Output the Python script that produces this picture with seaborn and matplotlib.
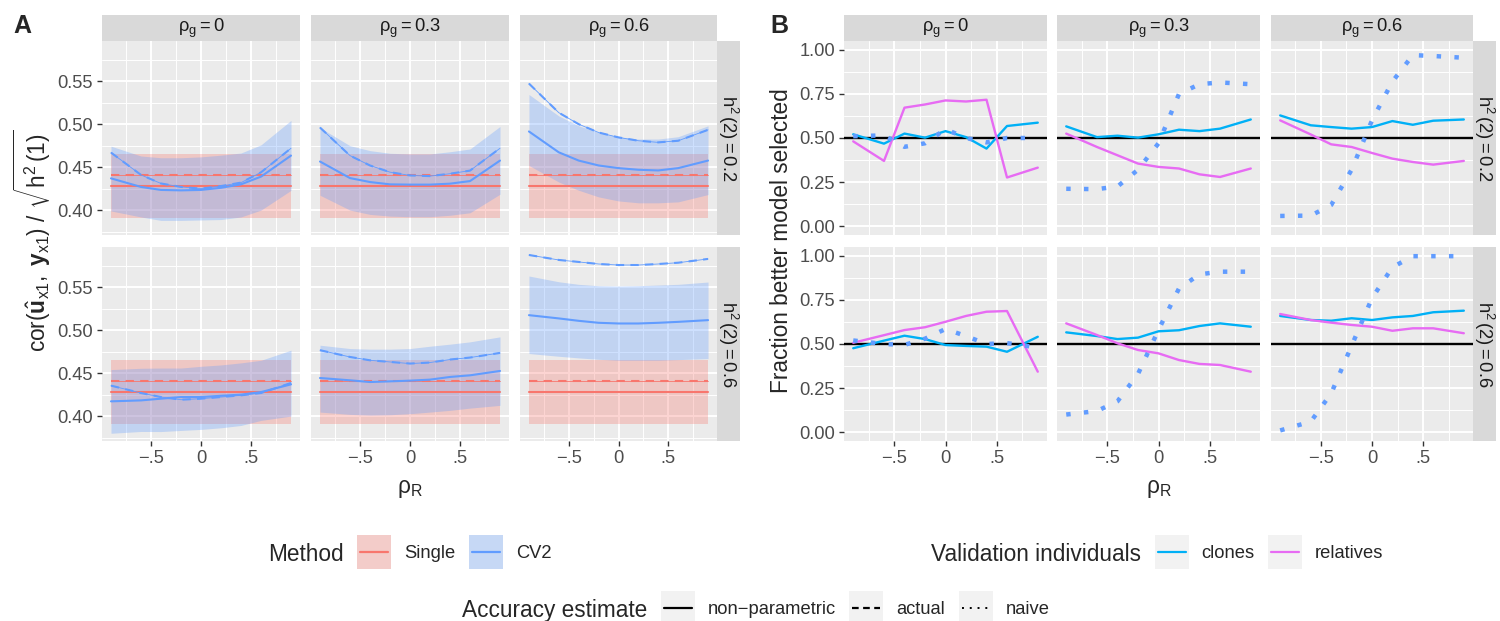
import matplotlib
matplotlib.use("Agg")
import matplotlib.pyplot as plt
from matplotlib.patches import Rectangle
from matplotlib.lines import Line2D
import seaborn as sns

# ---------------------------------------------------------------- data
rho_R = [-0.9, -0.6, -0.4, -0.2, 0.0, 0.2, 0.4, 0.6, 0.9]
rho_g_labels = ["0", "0.3", "0.6"]
h2_labels = ["0.2", "0.6"]

# Panel A: single-trait model (flat across rho_R)
single_nonpar = 0.428
single_actual = 0.441
single_lo = 0.391
single_hi = 0.465

# Panel A: CV2 model, rows = h2(2) 0.2 / 0.6, each row = rho_g 0, 0.3, 0.6
cv2_nonpar = [
    [[0.437, 0.427, 0.4235, 0.423, 0.4235, 0.426, 0.430, 0.439, 0.4635],
     [0.4566, 0.4373, 0.4327, 0.430, 0.4297, 0.4297, 0.4308, 0.4338, 0.4577],
     [0.4916, 0.4673, 0.4577, 0.452, 0.4489, 0.447, 0.4462, 0.4489, 0.4577]],
    [[0.4172, 0.4183, 0.4203, 0.4222, 0.4222, 0.4237, 0.425, 0.428, 0.437],
     [0.4444, 0.4417, 0.4397, 0.4405, 0.4413, 0.4425, 0.4456, 0.4475, 0.4526],
     [0.5176, 0.5138, 0.511, 0.5087, 0.5079, 0.5079, 0.5087, 0.5098, 0.5118]],
]
cv2_actual = [
    [[0.467, 0.441, 0.431, 0.427, 0.425, 0.428, 0.432, 0.444, 0.472],
     [0.4962, 0.4635, 0.452, 0.4442, 0.4404, 0.4396, 0.4424, 0.446, 0.472],
     [0.5474, 0.5135, 0.5001, 0.4904, 0.4847, 0.4808, 0.4789, 0.4808, 0.4935]],
    [[0.4355, 0.4269, 0.4222, 0.4191, 0.4203, 0.4222, 0.4242, 0.4269, 0.4386],
     [0.4768, 0.4689, 0.465, 0.4631, 0.4612, 0.4624, 0.4659, 0.4682, 0.4736],
     [0.5877, 0.5819, 0.5796, 0.5772, 0.576, 0.576, 0.5772, 0.5787, 0.5831]],
]
cv2_hi = [
    [[0.4745, 0.463, 0.461, 0.461, 0.462, 0.464, 0.4665, 0.476, 0.5045],
     [0.496, 0.475, 0.4693, 0.4662, 0.4654, 0.4654, 0.468, 0.4712, 0.4974],
     [0.5347, 0.5097, 0.4982, 0.4904, 0.4855, 0.4828, 0.4828, 0.4855, 0.4982]],
    [[0.4542, 0.4557, 0.456, 0.456, 0.458, 0.4596, 0.462, 0.465, 0.4768],
     [0.4826, 0.4787, 0.478, 0.478, 0.4787, 0.4814, 0.4838, 0.4865, 0.4923],
     [0.5632, 0.5565, 0.5535, 0.5519, 0.5515, 0.5519, 0.5527, 0.5535, 0.5562]],
]
cv2_lo = [
    [[0.399, 0.392, 0.388, 0.388, 0.3885, 0.389, 0.392, 0.400, 0.423],
     [0.4173, 0.400, 0.395, 0.393, 0.3923, 0.3923, 0.394, 0.3969, 0.4185],
     [0.452, 0.4327, 0.4231, 0.4154, 0.4107, 0.4085, 0.4085, 0.4096, 0.4181]],
    [[0.380, 0.3821, 0.382, 0.3833, 0.3845, 0.3864, 0.3891, 0.395, 0.400],
     [0.4047, 0.402, 0.4012, 0.4016, 0.4028, 0.4047, 0.4067, 0.4093, 0.4125],
     [0.4729, 0.4697, 0.4678, 0.4662, 0.465, 0.465, 0.465, 0.4658, 0.467]],
]

# Panel B: fraction of replicates where the better model was selected
frac_clones = [
    [[0.521, 0.468, 0.525, 0.502, 0.539, 0.505, 0.44, 0.568, 0.587],
     [0.566, 0.505, 0.513, 0.502, 0.521, 0.547, 0.539, 0.553, 0.605],
     [0.628, 0.572, 0.562, 0.553, 0.562, 0.596, 0.575, 0.598, 0.605]],
    [[0.476, 0.519, 0.547, 0.528, 0.494, 0.489, 0.485, 0.456, 0.541],
     [0.566, 0.545, 0.528, 0.536, 0.572, 0.578, 0.602, 0.617, 0.598],
     [0.659, 0.636, 0.632, 0.646, 0.636, 0.651, 0.659, 0.68, 0.689]],
]
frac_relatives = [
    [[0.481, 0.37, 0.672, 0.69, 0.713, 0.707, 0.717, 0.276, 0.332],
     [0.525, 0.449, 0.402, 0.355, 0.336, 0.327, 0.294, 0.279, 0.327],
     [0.60, 0.52, 0.464, 0.449, 0.415, 0.383, 0.364, 0.349, 0.37]],
    [[0.507, 0.55, 0.579, 0.595, 0.626, 0.659, 0.683, 0.687, 0.343],
     [0.617, 0.551, 0.504, 0.466, 0.447, 0.409, 0.387, 0.381, 0.343],
     [0.67, 0.636, 0.621, 0.608, 0.598, 0.575, 0.589, 0.589, 0.561]],
]
frac_naive = [
    [[0.51, 0.515, 0.45, 0.47, 0.55, 0.50, 0.475, 0.50, 0.50],
     [0.212, 0.21, 0.225, 0.32, 0.47, 0.75, 0.805, 0.815, 0.805],
     [0.058, 0.06, 0.12, 0.32, 0.60, 0.82, 0.97, 0.965, 0.955]],
    [[0.52, 0.50, 0.495, 0.53, 0.585, 0.545, 0.50, 0.505, 0.48],
     [0.10, 0.12, 0.175, 0.33, 0.58, 0.815, 0.895, 0.91, 0.91],
     [0.01, 0.06, 0.22, 0.49, 0.76, 0.935, 0.998, 0.998, 0.998]],
]
reference_level = 0.5

x_ticks = [-0.5, 0.0, 0.5]
x_tick_labels = ["\u2212.5", "0", ".5"]
a_y_ticks = [0.40, 0.45, 0.50, 0.55]
b_y_ticks = [0.0, 0.25, 0.5, 0.75, 1.0]

# ---------------------------------------------------------------- style
sns.set_theme(style="darkgrid")
plt.rcParams["font.family"] = ["Liberation Sans", "DejaVu Sans"]
plt.rcParams.update({
    "mathtext.fontset": "custom",
    "mathtext.rm": "Liberation Sans",
    "mathtext.it": "Liberation Sans:italic",
    "mathtext.bf": "Liberation Sans:bold",
    "mathtext.default": "regular",
    "axes.unicode_minus": True,
})

SINGLE = "#F8766D"
CV2 = "#619CFF"
CLONES = "#00B0F6"
RELATIVES = "#E76BF3"
PANEL_BG = "#EBEBEB"
STRIP_BG = "#D9D9D9"
TICK_TXT = "#4D4D4D"
AX_FS = 16.3
TICK_FS = 13.2
LEG_FS = 13.2

W, H = 1500, 621
fig = plt.figure(figsize=(W / 100, H / 100), dpi=100)
fig.patch.set_facecolor("white")


def box(x0, y0, x1, y1):
    return [x0 / W, 1 - y1 / H, (x1 - x0) / W, (y1 - y0) / H]


def fx(x):
    return x / W


def fy(y):
    return 1 - y / H


ROWS = [(41, 235), (247, 441)]
TOP_STRIP = (15, 41)
A_COLS = [(102, 300), (311, 509), (520, 717)]
A_RSTRIP = (717, 740)
B_COLS = [(844, 1047), (1057, 1260), (1271, 1473)]
B_RSTRIP = (1473, 1496)


def style_panel(ax, r, c, yticks, yminor, ylabels):
    ax.set_facecolor(PANEL_BG)
    for s in ax.spines.values():
        s.set_visible(False)
    ax.set_xlim(-0.99, 0.99)
    ax.set_xticks(x_ticks)
    ax.set_xticks([-0.75, -0.25, 0.25, 0.75], minor=True)
    ax.set_yticks(yticks)
    ax.set_yticks(yminor, minor=True)
    ax.grid(True, which="major", color="white", linewidth=1.4)
    ax.grid(True, which="minor", color="white", linewidth=0.7)
    ax.set_axisbelow(True)
    ax.tick_params(which="minor", length=0)
    ax.tick_params(which="major", color="#333333", length=3.6, width=1.0,
                   pad=3.0, labelsize=TICK_FS, labelcolor=TICK_TXT)
    ax.set_xlabel("")
    ax.set_ylabel("")
    if c == 0:
        ax.set_yticklabels(ylabels)
        ax.tick_params(axis="y", left=True, labelleft=True)
    else:
        ax.tick_params(axis="y", left=False, labelleft=False)
    if r == 1:
        ax.set_xticklabels(x_tick_labels)
        ax.tick_params(axis="x", bottom=True, labelbottom=True)
    else:
        ax.tick_params(axis="x", bottom=False, labelbottom=False)


def strip(x0, y0, x1, y1, text, rotation=0):
    sax = fig.add_axes(box(x0, y0, x1, y1))
    sax.set_facecolor(STRIP_BG)
    for s in sax.spines.values():
        s.set_visible(False)
    sax.set_xticks([])
    sax.set_yticks([])
    sax.grid(False)
    sax.text(0.5, 0.5, text, transform=sax.transAxes, ha="center",
             va="center", rotation=rotation, fontsize=TICK_FS,
             color="#1A1A1A")


# ---------------------------------------------------------------- panel A
for r in range(2):
    for c in range(3):
        x0, x1 = A_COLS[c]
        y0, y1 = ROWS[r]
        ax = fig.add_axes(box(x0, y0, x1, y1))
        n = len(rho_R)
        ax.fill_between(rho_R, [single_lo] * n, [single_hi] * n,
                        color=SINGLE, alpha=0.3, linewidth=0)
        ax.fill_between(rho_R, cv2_lo[r][c], cv2_hi[r][c],
                        color=CV2, alpha=0.3, linewidth=0)
        sns.lineplot(x=rho_R, y=[single_nonpar] * n, ax=ax, color=SINGLE,
                     linewidth=1.5)
        sns.lineplot(x=rho_R, y=[single_actual] * n, ax=ax, color=SINGLE,
                     linewidth=0.6)
        sns.lineplot(x=rho_R, y=[single_actual] * n, ax=ax, color=SINGLE,
                     linewidth=1.5, linestyle=(0, (4, 3)))
        sns.lineplot(x=rho_R, y=cv2_nonpar[r][c], ax=ax, color=CV2,
                     linewidth=1.5)
        sns.lineplot(x=rho_R, y=cv2_actual[r][c], ax=ax, color=CV2,
                     linewidth=0.6)
        sns.lineplot(x=rho_R, y=cv2_actual[r][c], ax=ax, color=CV2,
                     linewidth=1.5, linestyle=(0, (4, 3)))
        ax.set_ylim(0.371, 0.597)
        style_panel(ax, r, c, a_y_ticks, [0.375, 0.425, 0.475, 0.525, 0.575],
                    ["0.40", "0.45", "0.50", "0.55"])

for c in range(3):
    strip(A_COLS[c][0], TOP_STRIP[0], A_COLS[c][1], TOP_STRIP[1],
          r"$\rho_g = %s$" % rho_g_labels[c])
    strip(B_COLS[c][0], TOP_STRIP[0], B_COLS[c][1], TOP_STRIP[1],
          r"$\rho_g = %s$" % rho_g_labels[c])
for r in range(2):
    strip(A_RSTRIP[0], ROWS[r][0], A_RSTRIP[1], ROWS[r][1],
          r"$h^2\,(2) = %s$" % h2_labels[r], rotation=270)
    strip(B_RSTRIP[0], ROWS[r][0], B_RSTRIP[1], ROWS[r][1],
          r"$h^2\,(2) = %s$" % h2_labels[r], rotation=270)

# ---------------------------------------------------------------- panel B
for r in range(2):
    for c in range(3):
        x0, x1 = B_COLS[c]
        y0, y1 = ROWS[r]
        ax = fig.add_axes(box(x0, y0, x1, y1))
        ax.axhline(reference_level, color="black", linewidth=1.7)
        sns.lineplot(x=rho_R, y=frac_clones[r][c], ax=ax, color=CLONES,
                     linewidth=1.7)
        sns.lineplot(x=rho_R, y=frac_relatives[r][c], ax=ax,
                     color=RELATIVES, linewidth=1.7)
        sns.lineplot(x=rho_R, y=frac_naive[r][c], ax=ax, color=CV2,
                     linewidth=3.2, linestyle=(0, (1, 3)),
                     dash_capstyle="butt")
        ax.set_ylim(-0.05, 1.05)
        style_panel(ax, r, c, b_y_ticks, [0.125, 0.375, 0.625, 0.875],
                    ["0.00", "0.25", "0.50", "0.75", "1.00"])

# ---------------------------------------------------------------- titles
fig.text(fx(13), fy(26), "A", fontsize=18, fontweight="bold",
         ha="left", va="center")
fig.text(fx(770), fy(26), "B", fontsize=18, fontweight="bold",
         ha="left", va="center")

fig.text(fx(32), fy(241),
         r"$\mathrm{cor}(\hat{\mathbf{u}}_{x1},\ \mathbf{y}_{x1})\ /\ \sqrt{h^2\,(1)}$",
         rotation=90, ha="center", va="center", fontsize=AX_FS)
fig.text(fx(781), fy(241), "Fraction better model selected",
         rotation=90, ha="center", va="center", fontsize=AX_FS)
fig.text(fx((A_COLS[0][0] + A_COLS[2][1]) / 2), fy(489), r"$\rho_R$",
         ha="center", va="center", fontsize=AX_FS)
fig.text(fx((B_COLS[0][0] + B_COLS[2][1]) / 2), fy(489), r"$\rho_R$",
         ha="center", va="center", fontsize=AX_FS)

# ---------------------------------------------------------------- legends
renderer = fig.canvas.get_renderer()
KEY = 34


def key_fill(color):
    def draw(x, yc):
        fig.add_artist(Rectangle((fx(x), fy(yc + KEY / 2)), KEY / W, KEY / H,
                                 transform=fig.transFigure,
                                 facecolor="#F2F2F2", edgecolor="none"))
        fig.add_artist(Rectangle((fx(x), fy(yc + KEY / 2)), KEY / W, KEY / H,
                                 transform=fig.transFigure, facecolor=color,
                                 alpha=0.3, edgecolor="none"))
        fig.add_artist(Line2D([fx(x + 3), fx(x + KEY - 3)], [fy(yc), fy(yc)],
                              transform=fig.transFigure, color=color,
                              linewidth=1.6))
    return draw


def key_line(color, ls="-", lw=1.6, cap="butt"):
    def draw(x, yc):
        fig.add_artist(Rectangle((fx(x), fy(yc + KEY / 2)), KEY / W, KEY / H,
                                 transform=fig.transFigure,
                                 facecolor="#F2F2F2", edgecolor="none"))
        fig.add_artist(Line2D([fx(x + 3), fx(x + KEY - 3)], [fy(yc), fy(yc)],
                              transform=fig.transFigure, color=color,
                              linewidth=lw, linestyle=ls,
                              dash_capstyle=cap))
    return draw


def legend_row(x, yc, title, items):
    t = fig.text(fx(x), fy(yc), title, fontsize=AX_FS, ha="left",
                 va="center_baseline")
    x += t.get_window_extent(renderer).width + 13.5
    for draw, label in items:
        draw(x, yc)
        x += KEY + 13
        t = fig.text(fx(x), fy(yc), label, fontsize=LEG_FS, ha="left",
                     va="center_baseline")
        x += t.get_window_extent(renderer).width + 13.5


legend_row(268, 552, "Method",
           [(key_fill(SINGLE), "Single"), (key_fill(CV2), "CV2")])
legend_row(931, 552, "Validation individuals",
           [(key_line(CLONES), "clones"), (key_line(RELATIVES), "relatives")])
legend_row(462, 608, "Accuracy estimate",
           [(key_line("black"), "non\u2212parametric"),
            (key_line("black", ls=(0, (3, 2))), "actual"),
            (key_line("black", ls=(0, (1, 3)), lw=1.4), "naive")])

fig.savefig("out.png", dpi=100, facecolor="white")
